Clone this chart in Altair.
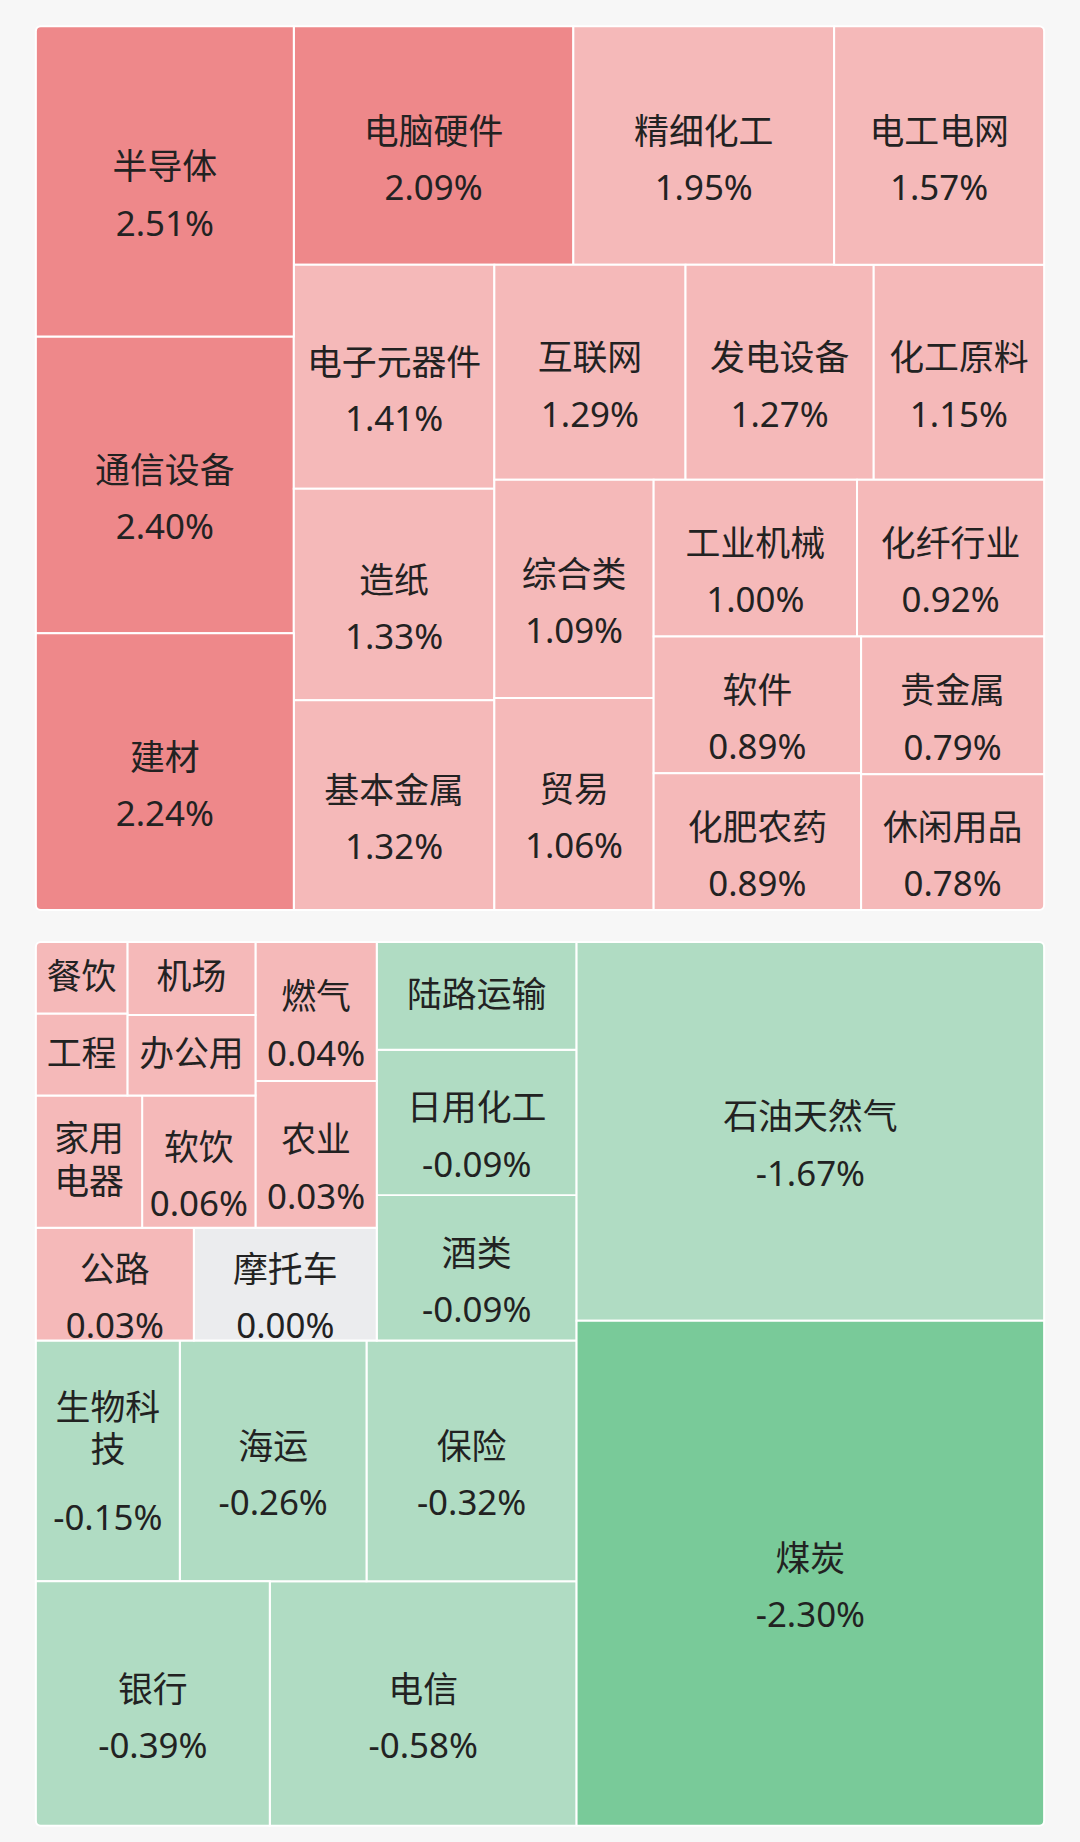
import altair as alt
import pandas as pd

# ---------------- data ----------------
TOP_NAMES = ["半导体", "通信设备", "建材", "电脑硬件", "精细化工", "电工电网",
             "电子元器件", "造纸", "基本金属", "互联网", "发电设备", "化工原料",
             "综合类", "贸易", "工业机械", "化纤行业", "软件", "化肥农药",
             "贵金属", "休闲用品"]
TOP_VALUES = [2.51, 2.40, 2.24, 2.09, 1.95, 1.57, 1.41, 1.33, 1.32, 1.29,
              1.27, 1.15, 1.09, 1.06, 1.00, 0.92, 0.89, 0.89, 0.79, 0.78]

BOTTOM_NAMES = ["煤炭", "石油天然气", "电信", "银行", "保险", "海运", "生物科技",
                "酒类", "日用化工", "陆路运输", "摩托车", "公路", "农业", "燃气",
                "软饮", "家用电器", "办公用", "机场", "工程", "餐饮"]
BOTTOM_VALUES = [-2.30, -1.67, -0.58, -0.39, -0.32, -0.26, -0.15, -0.09, -0.09,
                 -0.01, 0.00, 0.03, 0.03, 0.04, 0.06, 0.07, 0.11, 0.12, 0.14, 0.15]

# ---------------- layout parameters ----------------
W, H = 1012, 887
TOP_ROWS = [3, 3, 3, 3, 2, 2, 2, 1, 1]
BOTTOM_ROWS = [2, 2, 3, 3, 2, 2, 2, 2, 1, 1]
BOTTOM_OFFSET = 0.22   # bottom tiles weighted by distance below this level

FS = 35
LINE = 42.5
PAD = 10
VAL_MIN_H = 111


def strip_layout(sizes, rows, x0, y0, x1, y1):
    rects = []
    i = 0
    remaining = float(sum(sizes))
    for g in rows:
        row = sizes[i:i + g]
        s = float(sum(row))
        dx, dy = x1 - x0, y1 - y0
        if dx < dy:
            h = dy * s / remaining
            cx = x0
            for v in row:
                w = dx * v / s
                rects.append((cx, y0, cx + w, y0 + h))
                cx += w
            y0 += h
        else:
            w = dx * s / remaining
            cy = y0
            for v in row:
                h = dy * v / s
                rects.append((x0, cy, x0 + w, cy + h))
                cy += h
            x0 += w
        remaining -= s
        i += g
    return rects


def corner_of(r):
    x0, y0, x1, y1 = r
    e = 0.5
    if x0 < e and y0 < e:
        return "tl"
    if x1 > W - e and y0 < e:
        return "tr"
    if x0 < e and y1 > H - e:
        return "bl"
    if x1 > W - e and y1 > H - e:
        return "br"
    return "none"


def build(names, values, sizes, rows, flip):
    rects = strip_layout(sizes, rows, 0.0, 0.0, float(W), float(H))
    if flip:
        rects = [(W - x1, H - y1, W - x0, H - y0) for (x0, y0, x1, y1) in rects]
    tiles, labels = [], []
    for name, val, r in zip(names, values, rects):
        x0, y0, x1, y1 = r
        tiles.append(dict(name=name, value=val, x0=x0, y0=y0, x1=x1, y1=y1,
                          corner=corner_of(r)))
        w, h = x1 - x0, y1 - y0
        cx, cy = (x0 + x1) / 2, (y0 + y1) / 2
        n = len(name)
        if n * FS + PAD <= w:
            lines = [name]
        else:
            per = max(1, int((w - PAD) // FS))
            lines = [name[k:k + per] for k in range(0, n, per)]
        show_val = h >= VAL_MIN_H + LINE * (len(lines) - 1)
        if show_val:
            if len(lines) == 1:
                offs = [-2]
                voff = 54.5
            else:
                offs = [-41 + LINE * k for k in range(len(lines))]
                voff = offs[-1] + 68
        else:
            if len(lines) == 1:
                offs = [11]
            else:
                offs = [11 - LINE * (len(lines) - 1) / 2 + LINE * k
                        for k in range(len(lines))]
            voff = None
        for t, o in zip(lines, offs):
            labels.append(dict(text=t, x=cx, y=cy + o))
        if voff is not None:
            labels.append(dict(text=f"{val:.2f}%", x=cx, y=cy + voff))
    return pd.DataFrame(tiles), pd.DataFrame(labels)


top_tiles, top_labels = build(TOP_NAMES, TOP_VALUES, TOP_VALUES, TOP_ROWS, False)
bottom_sizes = [BOTTOM_OFFSET - v for v in BOTTOM_VALUES]
bot_tiles, bot_labels = build(BOTTOM_NAMES, BOTTOM_VALUES, bottom_sizes, BOTTOM_ROWS, True)

COLOR_SCALE = alt.Scale(type="threshold", domain=[-2, -0.001, 0.001, 2],
                        range=["#79CA99", "#B0DCC3", "#EBECEE", "#F5B9B9", "#EE888A"])
RADIUS = 5


def panel(tiles, labels):
    xs = alt.Scale(domain=[0, W], nice=False, zero=False)
    ys = alt.Scale(domain=[0, H], nice=False, zero=False, reverse=True)
    enc = dict(
        x=alt.X("x0:Q", scale=xs, axis=None),
        x2="x1:Q",
        y=alt.Y("y0:Q", scale=ys, axis=None),
        y2="y1:Q",
        color=alt.Color("value:Q", scale=COLOR_SCALE, legend=None),
    )
    base = alt.Chart(tiles)
    corner_props = {
        "none": {},
        "tl": {"cornerRadiusTopLeft": RADIUS},
        "tr": {"cornerRadiusTopRight": RADIUS},
        "bl": {"cornerRadiusBottomLeft": RADIUS},
        "br": {"cornerRadiusBottomRight": RADIUS},
    }
    layers = []
    for c, props in corner_props.items():
        layers.append(
            base.transform_filter(alt.datum.corner == c)
            .mark_rect(stroke="#FFFFFF", strokeWidth=2, **props)
            .encode(**enc)
        )
    text = alt.Chart(labels).mark_text(
        font="Noto Sans, Noto Sans CJK SC", fontSize=FS, color="#222222",
        baseline="alphabetic", align="center"
    ).encode(
        x=alt.X("x:Q", scale=xs, axis=None),
        y=alt.Y("y:Q", scale=ys, axis=None),
        text="text:N",
    )
    return alt.layer(*layers, text).properties(width=W, height=H)


chart = alt.vconcat(panel(top_tiles, top_labels), panel(bot_tiles, bot_labels),
                    spacing=30).configure(
    background="#F7F7F7",
    padding={"left": 34, "top": 22, "right": 34, "bottom": 16},
).configure_view(stroke=None)

chart.save("out.html", embed_options={"renderer": "svg", "actions": False})
